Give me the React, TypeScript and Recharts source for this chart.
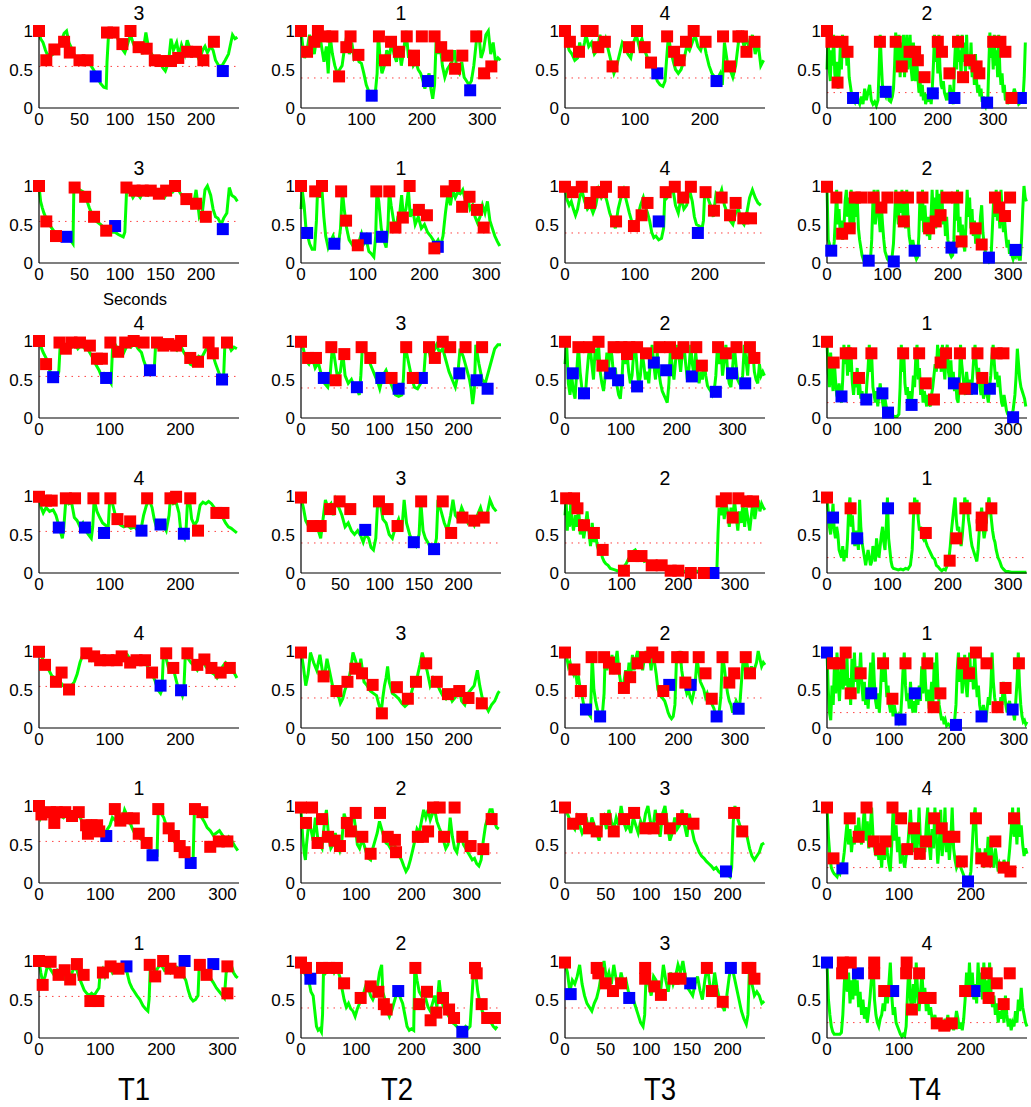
import React from 'react';
import { ComposedChart, Line, Scatter, XAxis, YAxis, ReferenceLine } from 'recharts';

type P = number[][];

// ---------- Row 1 ----------
const g11: P = [[0,1],[2,0.9],[5,0.85],[8,0.75],[10,0.7],[15,0.68],[20,0.72],[25,0.8],[28,0.88],[31,0.97],[34,1],[37,0.85],[40,0.78],[44,0.68],[48,0.6],[52,0.63],[55,0.57],[60,0.62],[63,0.57],[66,0.52],[70,0.45],[73,0.38],[76,0.32],[80,0.27],[83,0.26],[84,0.6],[86,0.98],[90,0.95],[95,0.97],[98,0.88],[102,0.78],[106,0.72],[110,0.85],[113,0.95],[116,0.85],[120,0.75],[125,0.82],[128,0.7],[132,0.98],[135,0.8],[138,0.72],[142,0.65],[145,0.62],[150,0.58],[153,0.52],[156,0.48],[160,0.6],[163,0.9],[166,0.75],[170,0.85],[173,0.68],[176,0.82],[180,0.7],[183,0.88],[187,0.75],[190,0.68],[195,0.7],[198,0.62],[202,0.75],[205,0.8],[208,0.72],[212,0.8],[215,0.75],[218,0.62],[222,0.55],[226,0.55],[230,0.62],[234,0.7],[237,0.85],[239,0.95],[242,0.9],[245,0.92]];
const r11: P = [[0,1],[9,0.62],[19,0.76],[31,0.86],[38,0.72],[50,0.62],[60,0.62],[84,0.98],[92,0.98],[103,0.83],[113,1],[123,0.79],[133,0.77],[143,0.62],[150,0.61],[163,0.61],[172,0.65],[183,0.73],[194,0.73],[203,0.62],[216,0.86]];
const b11: P = [[70,0.41],[227,0.48]];

const g12: P = [[0,1],[3,0.8],[6,0.65],[10,0.75],[14,0.95],[18,0.85],[22,0.7],[26,0.92],[30,1],[34,0.8],[38,0.6],[42,0.8],[45,0.45],[48,0.95],[52,0.7],[56,0.55],[60,0.45],[64,0.5],[68,0.55],[72,0.78],[76,0.95],[80,0.7],[84,0.85],[88,0.65],[92,0.7],[96,0.6],[100,0.58],[104,0.45],[108,0.3],[112,0.22],[116,0.15],[120,0.12],[123,0.2],[126,0.45],[128,1],[131,0.6],[134,0.45],[138,0.55],[142,0.75],[146,0.65],[150,0.85],[154,0.7],[158,0.6],[162,0.8],[166,0.55],[170,0.75],[174,1],[178,0.65],[182,0.75],[186,0.55],[190,0.6],[194,0.5],[198,0.45],[202,0.35],[205,0.25],[208,0.35],[212,0.45],[215,0.25],[218,0.12],[221,0.3],[224,0.95],[227,0.7],[230,0.85],[234,0.55],[238,0.4],[242,0.5],[246,0.55],[250,0.6],[254,0.75],[258,0.5],[262,0.45],[266,0.6],[270,0.4],[274,0.35],[278,0.3],[282,0.35],[286,0.55],[290,0.85],[294,1],[298,0.65],[302,0.75],[306,0.95],[310,1],[314,0.7],[318,0.85],[322,0.6],[326,0.65],[330,0.62]];
const r12: P = [[0,1],[10,0.73],[22,0.86],[28,1],[40,0.93],[52,0.93],[63,0.41],[75,0.79],[82,0.93],[95,0.69],[129,0.93],[139,0.62],[149,0.86],[162,0.73],[175,0.93],[187,0.68],[187,0.62],[200,0.93],[221,0.93],[232,0.79],[242,0.68],[255,0.51],[267,0.68],[290,0.93],[303,0.45],[315,0.54]];
const b12: P = [[117,0.16],[210,0.35],[280,0.23]];

const g13: P = [[0,0.95],[3,0.85],[6,0.75],[10,0.7],[14,0.62],[18,0.65],[21,0.85],[24,0.7],[28,0.85],[30,0.95],[34,0.8],[38,0.85],[42,0.7],[46,0.75],[50,0.95],[54,0.8],[58,0.9],[62,0.75],[66,0.6],[70,0.45],[74,0.55],[78,0.7],[82,0.85],[86,0.8],[90,0.7],[94,0.65],[98,0.85],[102,0.95],[106,0.8],[110,0.9],[114,0.75],[118,0.65],[122,0.6],[126,0.5],[129,0.45],[132,0.35],[136,0.3],[140,0.28],[143,0.35],[145,0.6],[148,0.95],[151,0.75],[155,0.6],[158,0.5],[162,0.45],[166,0.5],[170,0.62],[174,0.8],[178,0.75],[182,0.85],[186,0.95],[190,0.8],[194,0.75],[198,0.88],[202,0.7],[206,0.55],[210,0.45],[214,0.4],[218,0.38],[222,0.45],[225,0.3],[228,0.85],[232,0.6],[236,0.5],[240,0.4],[244,0.55],[248,0.85],[252,0.95],[256,0.8],[260,0.9],[264,0.75],[268,0.95],[272,0.7],[276,0.85],[280,0.55],[284,0.62]];
const r13: P = [[0,1],[7,0.86],[20,0.73],[31,1],[39.5,1],[47.6,0.79],[57,0.86],[68,0.54],[91.4,0.79],[103,1],[114,0.79],[123,0.59],[146,0.93],[156,0.73],[164,0.62],[173,0.86],[184,1],[201,0.86],[226,0.93],[236,0.54],[248,0.93],[253,0.93],[259.5,0.73],[271,0.86]];
const b13: P = [[132,0.45],[216.7,0.35]];

const g14: P = [[0,0.5],[2,0.98],[4,0.5],[6,0.35],[8,0.75],[10,0.55],[12,0.95],[14,0.45],[16,0.3],[18,0.6],[20,0.25],[22,0.45],[24,0.8],[26,0.5],[28,0.95],[30,0.65],[32,0.7],[34,0.85],[36,0.55],[38,0.75],[40,0.4],[42,0.3],[44,0.2],[47,0.12],[50,0.08],[53,0.2],[56,0.1],[59,0.05],[62,0.15],[65,0.05],[68,0.25],[71,0.1],[74,0.2],[77,0.3],[80,0.1],[83,0.05],[86,0.08],[89,0.03],[92,0.1],[94,0.5],[96,0.95],[98,0.6],[100,0.3],[103,0.2],[106,0.15],[109,0.25],[112,0.1],[115,0.08],[118,0.15],[120,0.25],[122,0.55],[124,0.98],[126,0.75],[128,0.5],[130,0.95],[132,0.4],[134,0.85],[136,0.55],[138,0.95],[140,0.4],[142,0.75],[144,0.95],[146,0.5],[148,0.7],[150,0.95],[152,0.5],[154,0.35],[156,0.85],[158,0.45],[160,0.35],[162,0.6],[164,0.4],[166,0.2],[168,0.35],[170,0.15],[172,0.3],[174,0.1],[176,0.2],[178,0.05],[180,0.12],[182,0.08],[184,0.2],[186,0.15],[188,0.05],[190,0.25],[192,0.55],[194,0.95],[196,0.6],[198,0.8],[200,0.45],[202,0.95],[204,0.5],[206,0.3],[208,0.25],[210,0.35],[212,0.2],[214,0.15],[216,0.1],[218,0.2],[220,0.1],[222,0.3],[224,0.2],[226,0.1],[228,0.05],[230,0.55],[232,0.85],[234,0.5],[236,0.95],[238,0.6],[240,0.75],[242,0.4],[244,0.95],[246,0.6],[248,0.85],[250,0.45],[252,0.95],[254,0.55],[256,0.7],[258,0.5],[260,0.85],[262,0.4],[264,0.6],[266,0.3],[268,0.7],[270,0.35],[272,0.2],[274,0.3],[276,0.15],[278,0.25],[280,0.08],[282,0.15],[284,0.05],[286,0.02],[288,0.1],[290,0.05],[292,0.55],[294,0.98],[296,0.65],[298,0.85],[300,0.5],[302,0.95],[304,0.55],[306,0.75],[308,0.4],[310,0.95],[312,0.5],[314,0.3],[316,0.45],[318,0.2],[320,0.3],[322,0.1],[324,0.15],[326,0.05],[330,0.2],[334,0.1],[338,0.25],[342,0.15],[346,0.05],[350,0.08],[354,0.15],[356,0.4],[358,0.85]];
const r14: P = [[0,1],[8,0.86],[19,0.33],[28,0.86],[37,0.73],[95.5,0.86],[124,0.86],[135,0.54],[149,0.73],[159,0.73],[164,0.62],[176,0.4],[200,0.86],[207.5,0.73],[221,0.45],[236.5,0.86],[245.6,0.4],[257.7,0.62],[270,0.54],[275,0.45],[300,0.86],[313,0.86],[322,0.73],[333,0.13]];
const b14: P = [[47,0.13],[106,0.21],[191,0.19],[230,0.13],[289,0.07],[350,0.13]];

// ---------- Row 2 ----------
const g21: P = [[0,1],[2,0.8],[4,0.72],[6,0.65],[10,0.55],[14,0.48],[18,0.42],[22,0.38],[28,0.38],[34,0.32],[40,0.28],[42,0.25],[43,0.95],[46,1],[50,0.95],[55,0.92],[58,0.85],[62,0.72],[66,0.62],[70,0.55],[76,0.5],[80,0.46],[84,0.42],[88,0.4],[94,0.4],[98,0.37],[104,0.34],[106,0.4],[108,0.9],[112,0.95],[116,0.85],[120,0.92],[125,0.85],[130,0.95],[135,0.88],[140,0.92],[145,0.86],[150,0.9],[155,0.85],[160,0.95],[165,0.92],[170,0.98],[175,0.9],[178,0.85],[182,0.8],[186,0.85],[190,0.7],[194,0.95],[198,0.6],[202,0.68],[205,0.95],[208,1],[212,0.88],[215,0.7],[218,0.6],[221,0.58],[225,0.5],[228,0.58],[232,0.65],[235,0.98],[238,0.88],[242,0.85],[245,0.8]];
const r21: P = [[0,1],[9,0.54],[21,0.35],[44,0.98],[57,0.86],[68,0.6],[83,0.42],[108,0.98],[118,0.94],[128,0.94],[138,0.94],[148,0.9],[157,0.94],[168,1],[182,0.83],[194,0.77],[206,0.6]];
const b21: P = [[34,0.34],[94,0.48],[227,0.44]];

const g22: P = [[0,0.7],[2,0.95],[5,0.75],[8,0.45],[11,0.35],[14,0.25],[18,0.18],[22,0.18],[25,0.55],[27,0.98],[30,0.85],[34,0.95],[37,0.6],[40,0.35],[44,0.2],[48,0.28],[52,0.35],[56,0.22],[60,0.2],[64,0.45],[67,0.95],[70,0.7],[74,0.45],[78,0.3],[82,0.25],[86,0.2],[90,0.22],[94,0.28],[98,0.38],[102,0.25],[106,0.3],[110,0.15],[114,0.12],[118,0.08],[121,0.35],[123,0.95],[126,0.8],[130,0.45],[134,0.3],[138,0.2],[141,0.5],[143,0.95],[146,0.75],[150,0.55],[154,0.45],[157,0.6],[160,0.65],[163,0.88],[166,0.6],[170,0.7],[174,0.95],[177,0.6],[181,0.7],[185,0.5],[190,0.6],[195,0.45],[200,0.5],[205,0.4],[210,0.35],[214,0.3],[218,0.25],[222,0.3],[226,0.22],[230,0.35],[234,0.65],[238,0.9],[242,0.75],[246,0.95],[250,0.85],[254,0.92],[258,0.9],[262,0.95],[266,0.82],[270,0.85],[274,0.7],[278,0.75],[282,0.6],[286,0.52],[290,0.6],[294,0.75],[298,0.65],[302,0.8],[306,0.55],[310,0.45],[314,0.35],[318,0.28],[322,0.22]];
const r22: P = [[0,1],[23,0.93],[34,1],[65,0.93],[73,0.55],[92,0.23],[122,0.93],[143,0.93],[153,0.46],[165,0.59],[176,1],[191,0.69],[204,0.62],[216,0.19],[235,0.93],[249,1],[261,0.73],[273,0.86],[285,0.69],[296,0.46]];
const b22: P = [[10,0.39],[54,0.25],[105,0.32],[131,0.34],[221.6,0.21]];

const g23: P = [[0,0.98],[3,0.82],[6,0.75],[9,0.8],[12,0.7],[15,0.62],[18,0.7],[21,0.85],[24,0.95],[28,0.8],[32,0.7],[36,0.75],[40,0.65],[44,0.75],[48,0.95],[52,0.85],[56,0.92],[60,0.8],[64,0.65],[68,0.55],[72,0.45],[76,0.7],[80,0.85],[84,0.95],[88,0.8],[92,0.65],[96,0.52],[100,0.45],[104,0.6],[108,0.75],[112,0.85],[116,0.7],[118,0.65],[121,0.55],[124,0.4],[127,0.33],[130,0.35],[134,0.3],[138,0.32],[141,0.45],[143,0.95],[146,0.85],[150,0.9],[154,0.98],[158,0.75],[162,0.65],[166,0.85],[170,0.7],[174,0.75],[178,0.95],[182,0.8],[185,0.6],[188,0.5],[192,0.48],[196,0.45],[198,0.55],[200,0.95],[204,0.85],[208,0.75],[212,0.6],[216,0.9],[220,0.85],[224,0.95],[228,0.75],[232,0.65],[236,0.55],[240,0.5],[244,0.65],[248,0.7],[252,0.55],[256,0.5],[260,0.65],[264,0.85],[268,0.95],[272,0.85],[276,0.78],[280,0.75]];
const r23: P = [[0,0.99],[11,0.92],[24,0.99],[36,0.78],[45,0.92],[53,0.92],[58.6,0.99],[73,0.54],[84,0.92],[98.6,0.48],[109.5,0.62],[118,0.78],[144,0.92],[157,0.99],[169,0.85],[180,0.99],[201,0.92],[213,0.68],[224,0.85],[236,0.62],[244,0.78],[255,0.58],[266,0.58]];
const b23: P = [[134,0.54],[190,0.39]];

const g24: P = [[0,0.98],[2,0.3],[4,0.25],[6,0.15],[8,0.2],[10,0.12],[12,0.28],[14,0.6],[16,0.95],[18,0.5],[20,0.7],[22,0.35],[24,0.55],[26,0.3],[28,0.45],[30,0.8],[32,0.95],[34,0.6],[36,0.85],[38,0.5],[40,0.95],[42,0.7],[44,0.4],[46,0.9],[48,0.6],[50,0.85],[52,0.45],[54,0.3],[56,0.2],[58,0.1],[60,0.05],[63,0.08],[66,0.05],[69,0.02],[72,0.05],[74,0.3],[76,0.8],[78,0.95],[80,0.5],[82,0.7],[84,0.95],[86,0.6],[88,0.4],[90,0.75],[92,0.5],[94,0.3],[96,0.15],[98,0.1],[100,0.05],[103,0.02],[106,0.05],[108,0.1],[110,0.25],[112,0.6],[114,0.95],[116,0.7],[118,0.5],[120,0.9],[122,0.65],[124,0.95],[126,0.55],[128,0.8],[130,0.45],[132,0.95],[134,0.6],[136,0.35],[138,0.25],[140,0.15],[142,0.3],[144,0.2],[146,0.1],[148,0.05],[150,0.08],[152,0.35],[154,0.9],[156,0.55],[158,0.95],[160,0.4],[162,0.75],[164,0.5],[166,0.35],[168,0.6],[170,0.3],[172,0.55],[174,0.95],[176,0.6],[178,0.85],[180,0.45],[182,0.95],[184,0.55],[186,0.9],[188,0.6],[190,0.95],[192,0.5],[194,0.7],[196,0.35],[198,0.6],[200,0.3],[202,0.2],[204,0.12],[206,0.08],[208,0.1],[210,0.3],[212,0.85],[214,0.55],[216,0.95],[218,0.4],[220,0.6],[222,0.3],[224,0.5],[226,0.25],[228,0.15],[230,0.5],[232,0.95],[234,0.6],[236,0.85],[238,0.45],[240,0.7],[242,0.35],[244,0.55],[246,0.25],[248,0.4],[250,0.2],[252,0.35],[254,0.6],[256,0.75],[258,0.4],[260,0.25],[262,0.15],[264,0.1],[266,0.05],[268,0.02],[270,0.05],[272,0.15],[274,0.5],[276,0.85],[278,0.6],[280,0.95],[282,0.55],[284,0.8],[286,0.45],[288,0.95],[290,0.65],[292,0.4],[294,0.55],[296,0.35],[298,0.2],[300,0.3],[302,0.12],[304,0.2],[306,0.1],[308,0.05],[310,0.1],[312,0.08],[314,0.15],[316,0.1],[318,0.05],[320,0.05],[322,0.3],[324,0.7],[326,1],[328,0.85],[330,0.8]];
const r24: P = [[0,0.99],[15.5,0.85],[25,0.38],[37.6,0.45],[46,0.85],[57,0.85],[77,0.85],[90,0.72],[100,0.85],[120.4,0.85],[134,0.85],[127,0.54],[158,0.85],[169,0.45],[180,0.54],[188,0.62],[198,0.85],[215.5,0.85],[222.7,0.28],[246,0.45],[256,0.24],[278,0.85],[285,0.72],[294.5,0.61],[303,0.85]];
const b24: P = [[7,0.16],[69,0.03],[110.5,0.02],[145,0.16],[206,0.2],[268,0.07],[312,0.17]];

// ---------- Row 3 ----------
const g31: P = [[0,1],[3,0.92],[6,0.85],[10,0.78],[14,0.65],[18,0.55],[22,0.5],[25,0.52],[28,0.6],[30,0.95],[34,0.88],[38,0.9],[42,0.95],[46,0.92],[50,0.98],[55,0.9],[60,0.95],[65,0.9],[70,0.88],[75,0.8],[80,0.7],[85,0.62],[88,0.55],[92,0.58],[96,0.55],[100,0.48],[102,0.45],[104,0.9],[108,0.95],[112,0.88],[116,0.92],[120,0.85],[125,0.95],[130,0.92],[135,0.98],[140,0.9],[145,0.85],[148,0.75],[152,0.65],[156,0.6],[160,0.58],[163,0.62],[165,0.95],[170,0.9],[175,0.95],[180,0.92],[185,0.98],[190,0.92],[195,0.88],[200,0.95],[205,0.85],[210,0.78],[214,0.7],[218,0.68],[222,0.72],[226,0.8],[230,0.78],[234,0.85],[238,0.92],[242,0.88],[246,0.82],[250,0.7],[254,0.6],[258,0.5],[261,0.48],[263,0.95],[267,0.98],[272,0.88],[276,0.92],[280,0.9]];
const r31: P = [[0,1],[10,0.7],[29,0.98],[38,0.9],[46,0.98],[58,0.98],[72,0.94],[82,0.77],[89,0.77],[101,0.98],[112,0.86],[122,0.98],[134,1],[148,0.98],[167,0.98],[176,0.94],[183,0.96],[194,0.94],[201,1],[214,0.78],[225,0.73],[240,0.98],[246,0.84],[266,0.98]];
const b31: P = [[20,0.53],[95,0.52],[157,0.62],[259,0.5]];

const g32: P = [[0,1],[3,0.9],[6,0.75],[10,0.7],[14,0.8],[18,0.65],[22,0.72],[26,0.55],[30,0.45],[34,0.4],[37,0.55],[40,0.95],[43,0.75],[46,0.55],[50,0.6],[53,0.85],[56,0.55],[60,0.45],[64,0.5],[68,0.4],[72,0.35],[74,0.3],[76,0.55],[78,0.95],[82,0.85],[86,0.75],[90,0.65],[94,0.55],[98,0.45],[100,0.38],[104,0.55],[108,0.62],[112,0.5],[116,0.4],[120,0.3],[124,0.28],[128,0.3],[130,0.5],[132,0.95],[136,0.75],[140,0.55],[144,0.4],[148,0.38],[152,0.45],[156,0.55],[158,0.85],[161,0.95],[164,0.8],[168,0.85],[172,0.95],[176,0.85],[180,0.9],[184,0.75],[188,0.6],[192,0.5],[196,0.4],[199,0.55],[202,0.9],[206,0.8],[210,0.65],[214,0.5],[216,0.38],[218,0.18],[220,0.35],[222,0.95],[226,0.7],[230,0.5],[234,0.45],[238,0.6],[242,0.75],[246,0.9],[250,0.95],[254,0.95]];
const r32: P = [[0,0.99],[9,0.78],[19,0.78],[38.5,0.92],[44,0.49],[55,0.83],[77,0.92],[88,0.78],[115,0.52],[133.6,0.92],[142,0.52],[162.6,0.92],[170,0.78],[180,0.99],[189.5,0.92],[209,0.92],[230,0.92]];
const b32: P = [[29,0.52],[71,0.4],[102,0.52],[124,0.38],[153.5,0.52],[201,0.58],[223,0.49],[237,0.38]];

const g33: P = [[0,0.7],[3,0.95],[6,0.45],[9,0.3],[12,0.55],[15,0.35],[18,0.25],[21,0.6],[24,0.95],[27,0.6],[30,0.4],[33,0.3],[36,0.25],[39,0.55],[42,0.8],[45,0.95],[48,0.7],[51,0.5],[54,0.9],[57,0.75],[60,0.95],[63,0.6],[66,0.45],[69,0.35],[72,0.55],[75,0.85],[78,0.65],[81,0.95],[84,0.8],[87,0.55],[90,0.65],[93,0.42],[96,0.3],[99,0.25],[102,0.5],[105,0.95],[108,0.7],[111,0.85],[114,0.6],[117,0.45],[120,0.55],[123,0.85],[126,0.95],[129,0.65],[132,0.42],[135,0.55],[138,0.85],[141,0.7],[144,0.5],[147,0.6],[150,0.45],[153,0.75],[156,0.95],[159,0.7],[162,0.5],[165,0.85],[168,0.6],[171,0.45],[174,0.35],[177,0.3],[180,0.25],[183,0.2],[186,0.45],[189,0.95],[192,0.65],[195,0.5],[198,0.75],[201,0.95],[204,0.8],[207,0.6],[210,0.85],[213,0.95],[216,0.7],[219,0.5],[222,0.65],[225,0.95],[228,0.7],[231,0.55],[234,0.85],[237,0.6],[240,0.45],[243,0.6],[246,0.5],[249,0.75],[252,0.55],[255,0.42],[258,0.38],[261,0.35],[264,0.3],[267,0.35],[270,0.55],[273,0.95],[276,0.7],[279,0.9],[282,0.55],[285,0.75],[288,0.95],[291,0.6],[294,0.45],[297,0.4],[300,0.65],[303,0.95],[306,0.7],[309,0.5],[312,0.45],[315,0.42],[318,0.55],[321,0.95],[324,0.75],[327,0.55],[330,0.95],[333,0.8],[336,0.9],[339,0.6],[342,0.5],[345,0.45],[348,0.7],[351,0.55],[354,0.6],[357,0.55]];
const r33: P = [[0,0.99],[24,0.92],[43,0.92],[60,0.99],[67,0.68],[87,0.92],[101,0.92],[111,0.83],[115,0.92],[129,0.92],[145,0.84],[169,0.92],[188,0.92],[201,0.84],[212,0.92],[235,0.92],[245,0.68],[274,0.92],[288,0.84],[307,0.92],[331,0.92],[339,0.78]];
const b33: P = [[14,0.58],[34,0.32],[81,0.58],[95,0.49],[129,0.41],[159,0.72],[181,0.62],[227,0.54],[270,0.34],[299,0.58],[322.6,0.45]];

const g34: P = [[0,0.98],[2,0.6],[4,0.4],[6,0.85],[8,0.55],[10,0.35],[12,0.75],[14,0.5],[16,0.3],[18,0.25],[20,0.45],[22,0.3],[24,0.2],[26,0.5],[28,0.95],[30,0.7],[32,0.9],[34,0.55],[36,0.95],[38,0.6],[40,0.8],[42,0.45],[44,0.3],[46,0.5],[48,0.4],[50,0.65],[52,0.3],[54,0.45],[56,0.25],[58,0.35],[60,0.2],[62,0.3],[64,0.2],[66,0.45],[68,0.65],[70,0.95],[72,0.6],[74,0.8],[76,0.4],[78,0.3],[80,0.2],[82,0.35],[84,0.15],[86,0.3],[88,0.45],[90,0.3],[92,0.2],[94,0.1],[96,0.25],[98,0.15],[100,0.08],[104,0.05],[108,0.03],[112,0.02],[116,0.02],[119,0.05],[121,0.4],[123,0.95],[125,0.6],[127,0.85],[129,0.45],[131,0.3],[133,0.4],[135,0.2],[137,0.35],[139,0.15],[141,0.3],[143,0.55],[145,0.4],[147,0.8],[149,0.95],[151,0.5],[153,0.65],[155,0.3],[157,0.45],[159,0.2],[161,0.35],[163,0.25],[165,0.15],[167,0.3],[169,0.2],[171,0.15],[173,0.3],[175,0.4],[177,0.55],[179,0.7],[181,0.6],[183,0.95],[185,0.75],[187,0.9],[189,0.6],[191,0.95],[193,0.7],[195,0.5],[197,0.85],[199,0.95],[201,0.6],[203,0.5],[205,0.75],[207,0.45],[209,0.6],[211,0.35],[213,0.5],[215,0.25],[217,0.2],[219,0.45],[221,0.95],[223,0.7],[225,0.55],[227,0.4],[229,0.3],[231,0.6],[233,0.45],[235,0.35],[237,0.5],[239,0.3],[241,0.55],[243,0.8],[245,0.95],[247,0.7],[249,0.5],[251,0.65],[253,0.4],[255,0.3],[257,0.45],[259,0.25],[261,0.35],[263,0.55],[265,0.3],[267,0.2],[269,0.4],[271,0.55],[273,0.8],[275,0.95],[277,0.7],[279,0.5],[281,0.6],[283,0.4],[285,0.55],[287,0.35],[289,0.2],[291,0.15],[293,0.3],[295,0.2],[297,0.1],[299,0.05],[302,0.02],[305,0.05],[308,0.1],[311,0.3],[313,0.55],[315,0.9],[317,0.7],[319,0.5],[321,0.4],[323,0.35],[325,0.3],[327,0.25],[329,0.15]];
const r34: P = [[0,0.99],[11,0.72],[31,0.84],[40,0.84],[53,0.52],[73.5,0.84],[126,0.84],[152.5,0.84],[163.5,0.45],[177,0.24],[188,0.72],[197,0.84],[220,0.84],[228,0.38],[249,0.84],[257,0.52],[280.7,0.84],[292,0.84]];
const b34: P = [[24,0.28],[65,0.24],[91.7,0.32],[101,0.07],[140,0.17],[210,0.45],[240,0.38],[269.6,0.38],[308,0.01]];

// ---------- Row 4 ----------
const g41: P = [[0,1],[3,0.85],[6,0.78],[10,0.85],[15,0.8],[20,0.82],[24,0.75],[27,0.65],[30,0.55],[33,0.45],[35,0.58],[38,0.95],[42,0.9],[46,0.92],[50,0.72],[54,0.68],[58,0.6],[62,0.65],[66,0.55],[70,0.5],[74,0.45],[76,0.6],[78,0.95],[82,0.8],[86,0.72],[90,0.65],[94,0.62],[98,0.6],[100,0.95],[104,0.9],[108,0.75],[112,0.65],[116,0.62],[120,0.6],[125,0.62],[130,0.58],[135,0.6],[140,0.55],[144,0.55],[148,0.75],[152,0.88],[156,0.95],[160,0.85],[163,0.7],[166,0.6],[170,0.62],[176,0.62],[180,0.55],[184,0.75],[186,0.98],[190,0.9],[194,0.92],[198,0.78],[200,0.6],[203,0.5],[206,0.45],[208,0.55],[210,0.9],[213,0.95],[216,0.7],[220,0.62],[224,0.68],[228,0.88],[232,0.92],[236,0.9],[240,0.93],[244,0.9],[248,0.85],[252,0.8],[256,0.75],[260,0.72],[264,0.65],[268,0.6],[272,0.58],[276,0.55],[280,0.52]];
const r41: P = [[0,0.99],[10,0.94],[18,0.94],[38,0.97],[51,0.97],[77,0.97],[101,0.97],[111,0.7],[129,0.67],[153,0.97],[186,0.97],[194,0.99],[214,0.97],[225,0.55],[251,0.78],[261,0.78]];
const b41: P = [[28,0.59],[65,0.59],[92,0.52],[145,0.55],[172,0.63],[205,0.51]];

const g42: P = [[0,0.98],[3,0.85],[6,0.68],[10,0.6],[14,0.65],[18,0.6],[22,0.55],[25,0.45],[28,0.7],[31,0.95],[34,0.85],[38,0.9],[41,0.75],[44,0.95],[48,0.85],[52,0.75],[56,0.6],[60,0.65],[64,0.55],[68,0.5],[72,0.55],[76,0.48],[79,0.4],[82,0.5],[86,0.45],[89,0.33],[92,0.3],[95,0.45],[97,0.85],[100,0.95],[104,0.7],[108,0.65],[112,0.5],[116,0.45],[120,0.6],[124,0.7],[128,0.55],[131,0.95],[134,0.65],[138,0.5],[142,0.4],[146,0.35],[150,0.5],[152,0.95],[155,0.55],[158,0.45],[162,0.38],[166,0.3],[170,0.35],[172,0.45],[174,0.95],[178,0.8],[182,0.65],[186,0.55],[190,0.75],[193,0.95],[196,0.75],[200,0.7],[204,0.85],[208,0.75],[212,0.65],[216,0.7],[220,0.62],[224,0.75],[228,0.85],[232,0.7],[236,0.75],[240,0.95],[244,0.85],[248,0.8]];
const r42: P = [[0,0.98],[14.8,0.61],[25,0.61],[37,0.83],[49,0.93],[62.6,0.83],[99,0.93],[110,0.83],[122.6,0.61],[152.6,0.93],[180,0.93],[190.7,0.52],[205,0.72],[220,0.68],[232,0.72]];
const b42: P = [[81.6,0.56],[143.3,0.4],[169,0.31]];

const g43: P = [[0,0.75],[2,0.95],[4,0.55],[6,0.8],[8,0.6],[10,0.9],[12,0.7],[15,0.55],[18,0.75],[21,0.6],[24,0.85],[27,0.5],[30,0.7],[33,0.45],[36,0.6],[39,0.8],[42,0.55],[45,0.35],[48,0.65],[51,0.4],[54,0.5],[57,0.35],[60,0.28],[63,0.3],[66,0.2],[69,0.15],[72,0.12],[76,0.1],[80,0.06],[84,0.05],[88,0.04],[92,0.03],[96,0.03],[100,0.05],[104,0.08],[108,0.12],[112,0.18],[116,0.22],[120,0.28],[124,0.3],[128,0.25],[132,0.22],[136,0.2],[140,0.15],[144,0.16],[148,0.12],[152,0.14],[156,0.1],[160,0.12],[165,0.08],[170,0.06],[175,0.08],[180,0.05],[185,0.04],[190,0.03],[195,0.04],[200,0.02],[205,0.03],[210,0.02],[215,0.03],[220,0.02],[225,0.02],[230,0.03],[235,0.02],[240,0.03],[245,0.02],[250,0.02],[255,0.01],[260,0.01],[265,0.01],[268,0.02],[270,0.5],[272,0.85],[275,0.75],[278,0.95],[281,0.7],[284,0.9],[287,0.8],[290,0.6],[293,0.85],[296,0.65],[299,0.95],[302,0.75],[305,0.55],[308,0.8],[311,0.65],[314,0.9],[317,0.6],[320,0.85],[323,0.7],[326,0.55],[329,0.75],[332,0.95],[335,0.7],[338,0.85],[341,0.95],[344,0.8],[347,0.9],[350,0.85],[353,0.82]];
const r43: P = [[2,0.97],[16,0.97],[22,0.84],[33.5,0.62],[51,0.52],[66.5,0.3],[104,0.03],[120.6,0.22],[135,0.22],[153,0.1],[170.6,0.1],[186.5,0.03],[200,0.03],[222,0],[245,0],[276.5,0.93],[284,0.97],[296,0.72],[306,0.97],[320.6,0.93],[332,0.93]];
const b43: P = [[262,0]];

const g44: P = [[0,0.98],[2,0.8],[4,0.6],[6,0.5],[8,0.7],[10,0.9],[12,0.55],[14,0.45],[16,0.6],[18,0.5],[20,0.3],[22,0.25],[24,0.2],[26,0.35],[28,0.15],[30,0.3],[32,0.2],[34,0.45],[36,0.85],[38,0.98],[40,0.6],[42,0.75],[44,0.5],[46,0.35],[48,0.55],[50,0.45],[52,0.3],[54,0.95],[56,0.6],[58,0.4],[60,0.3],[62,0.2],[64,0.1],[66,0.2],[68,0.3],[70,0.2],[72,0.1],[74,0.15],[76,0.35],[78,0.25],[80,0.15],[82,0.45],[84,0.3],[86,0.2],[88,0.35],[90,0.5],[92,0.6],[94,0.4],[96,0.3],[98,0.6],[100,0.98],[102,0.45],[104,0.3],[106,0.15],[108,0.08],[110,0.06],[114,0.05],[118,0.04],[122,0.05],[126,0.04],[130,0.06],[134,0.05],[138,0.1],[141,0.3],[143,0.7],[145,0.98],[147,0.8],[149,0.95],[151,0.7],[153,0.55],[155,0.6],[157,0.48],[159,0.45],[161,0.55],[163,0.42],[166,0.35],[169,0.3],[172,0.25],[175,0.2],[178,0.18],[181,0.1],[184,0.08],[187,0.05],[190,0.03],[193,0.05],[196,0.04],[199,0.1],[202,0.2],[204,0.35],[206,0.55],[208,0.7],[210,0.85],[212,0.98],[214,0.7],[216,0.55],[218,0.6],[220,0.45],[222,0.35],[224,0.5],[226,0.7],[228,0.98],[230,0.85],[232,0.95],[234,0.7],[236,0.6],[238,0.45],[240,0.35],[242,0.3],[244,0.25],[246,0.2],[248,0.15],[250,0.3],[252,0.55],[254,0.7],[256,0.85],[258,0.6],[260,0.45],[262,0.55],[264,0.7],[266,0.85],[268,0.98],[270,0.85],[272,0.7],[274,0.55],[276,0.45],[278,0.4],[280,0.3],[283,0.2],[286,0.15],[289,0.08],[292,0.05],[296,0.02],[300,0.02],[305,0.01],[310,0.01],[315,0.01],[320,0.01],[325,0.01],[330,0.01]];
const r44: P = [[0,0.98],[39,0.84],[145,0.84],[163.5,0.52],[203,0.16],[214,0.45],[229,0.84],[256,0.72],[256,0.62],[272,0.84]];
const b44: P = [[10,0.72],[50,0.45],[101,0.84]];

// ---------- Row 5 ----------
const g51: P = [[0,1],[3,0.95],[6,0.88],[10,0.85],[14,0.75],[18,0.68],[22,0.65],[26,0.62],[30,0.6],[34,0.55],[38,0.55],[42,0.52],[46,0.55],[50,0.6],[54,0.7],[58,0.85],[62,0.95],[66,0.92],[70,0.95],[75,0.88],[80,0.92],[85,0.88],[90,0.92],[95,0.9],[100,0.88],[105,0.92],[110,0.88],[115,0.92],[120,0.9],[125,0.95],[130,0.88],[135,0.92],[140,0.9],[145,0.88],[150,0.85],[155,0.78],[160,0.7],[164,0.62],[168,0.5],[172,0.45],[174,0.5],[176,0.95],[180,0.9],[184,0.75],[188,0.8],[192,0.7],[196,0.55],[200,0.5],[203,0.42],[205,0.5],[207,0.95],[211,0.9],[215,0.85],[220,0.8],[224,0.75],[228,0.82],[232,0.88],[236,0.8],[240,0.75],[244,0.72],[248,0.7],[252,0.65],[256,0.7],[260,0.8],[264,0.85],[268,0.82],[272,0.78],[276,0.72],[280,0.65]];
const r51: P = [[0,0.99],[8.5,0.82],[24,0.6],[32,0.72],[42.5,0.5],[67,0.97],[78,0.93],[86.5,0.88],[98,0.88],[110,0.88],[117,0.93],[129,0.85],[138,0.88],[150,0.88],[160,0.72],[180,0.97],[190,0.78],[210,0.97],[224,0.82],[234,0.89],[244,0.78],[257,0.72],[270,0.78]];
const b51: P = [[172,0.55],[201,0.49]];

const g52: P = [[0,1],[3,0.8],[6,0.55],[9,0.7],[12,0.98],[16,0.85],[20,0.75],[24,0.95],[27,0.75],[30,0.68],[33,0.9],[36,0.75],[40,0.55],[44,0.45],[48,0.4],[50,0.32],[53,0.38],[56,0.5],[60,0.6],[63,0.75],[66,0.98],[70,0.85],[73,0.7],[76,0.9],[80,0.6],[84,0.55],[88,0.48],[92,0.45],[96,0.42],[99,0.3],[102,0.22],[104,0.4],[106,0.55],[108,0.65],[110,0.8],[112,0.6],[116,0.45],[120,0.42],[124,0.38],[128,0.32],[132,0.28],[136,0.32],[140,0.45],[144,0.6],[148,0.68],[151,0.82],[154,0.98],[157,0.85],[160,0.75],[164,0.55],[168,0.65],[172,0.6],[176,0.5],[180,0.42],[184,0.38],[188,0.45],[192,0.35],[196,0.4],[200,0.55],[204,0.35],[208,0.3],[212,0.45],[216,0.5],[220,0.55],[224,0.75],[227,0.55],[230,0.4],[234,0.3],[238,0.22],[242,0.3],[246,0.35],[250,0.45],[252,0.48]];
const r52: P = [[0,0.98],[28.7,0.67],[45,0.48],[59,0.6],[69,0.77],[77.5,0.71],[91,0.56],[102.7,0.19],[121.8,0.53],[135.7,0.38],[146,0.6],[159,0.84],[172.5,0.6],[186.6,0.44],[201,0.48],[212.7,0.39],[229.6,0.32]];
const b52: P = [];

const g53: P = [[0,1],[3,0.92],[6,0.8],[9,0.85],[12,0.75],[15,0.7],[18,0.8],[21,0.6],[24,0.65],[27,0.5],[30,0.42],[33,0.3],[36,0.25],[39,0.2],[42,0.18],[45,0.15],[48,0.95],[51,0.5],[54,0.35],[57,0.25],[60,0.15],[63,0.12],[66,0.18],[69,0.45],[71,0.95],[74,0.75],[77,0.9],[80,0.8],[83,0.95],[86,0.7],[89,0.85],[92,1],[95,0.75],[98,0.6],[101,0.45],[104,0.6],[107,0.75],[110,0.6],[113,0.85],[116,0.7],[119,0.95],[122,0.75],[125,0.9],[128,1],[131,0.8],[134,0.95],[137,0.75],[140,0.9],[143,1],[146,0.85],[149,0.95],[152,0.75],[155,1],[158,0.85],[161,0.7],[164,0.5],[167,0.45],[170,0.4],[173,0.38],[176,0.35],[179,0.28],[182,0.2],[185,0.15],[188,0.12],[191,0.15],[194,0.3],[197,0.95],[200,0.85],[203,1],[206,0.75],[209,0.6],[212,0.55],[215,0.45],[218,0.5],[221,0.4],[224,0.35],[227,0.45],[230,0.6],[233,0.9],[236,0.75],[239,0.6],[242,0.55],[245,0.5],[248,0.4],[251,0.45],[254,0.38],[257,0.35],[260,0.3],[263,0.25],[266,0.15],[269,0.12],[272,0.2],[275,0.4],[278,0.95],[281,0.8],[284,0.6],[287,0.45],[290,0.35],[293,0.3],[296,0.2],[299,0.28],[302,0.35],[305,0.3],[308,0.25],[311,0.55],[314,0.85],[317,0.75],[320,0.9],[323,0.75],[326,0.7],[329,0.8],[332,0.72],[335,0.78],[338,0.85],[341,1],[344,0.9],[347,0.8],[350,0.85],[353,0.82]];
const r53: P = [[0,0.98],[16.5,0.76],[28,0.48],[47,0.92],[69,0.92],[77.6,0.85],[88,0.77],[104,0.52],[115,0.66],[128,0.84],[141,0.92],[154,0.98],[164.7,0.92],[173.5,0.48],[198,0.92],[207.6,0.92],[212.4,0.59],[236,0.92],[248,0.71],[259,0.38],[278,0.92],[290,0.59],[298.6,0.71],[319,0.92],[326.5,0.71]];
const b53: P = [[37,0.24],[62,0.15],[184,0.56],[221.8,0.56],[267.6,0.15],[306.5,0.25]];

const g54: P = [[0,0.98],[2,0.5],[4,0.2],[6,0.1],[8,0.55],[10,0.3],[12,0.85],[14,0.45],[16,0.98],[18,0.6],[20,0.35],[22,0.7],[24,0.95],[26,0.5],[28,0.8],[30,0.55],[32,0.95],[34,0.4],[36,0.65],[38,0.3],[40,0.9],[42,0.5],[44,0.98],[46,0.6],[48,0.8],[50,0.45],[52,0.7],[54,0.98],[56,0.55],[58,0.35],[60,0.6],[62,0.3],[64,0.45],[66,0.25],[68,0.55],[70,0.85],[72,0.5],[74,0.98],[76,0.6],[78,0.35],[80,0.25],[82,0.45],[84,0.2],[86,0.5],[88,0.9],[90,0.6],[92,0.98],[94,0.7],[96,0.4],[98,0.55],[100,0.3],[102,0.2],[104,0.35],[106,0.15],[108,0.3],[110,0.2],[112,0.1],[114,0.15],[116,0.08],[118,0.12],[120,0.4],[122,0.75],[124,0.98],[126,0.55],[128,0.35],[130,0.45],[132,0.25],[134,0.6],[136,0.3],[138,0.2],[140,0.35],[142,0.2],[144,0.45],[146,0.3],[148,0.55],[150,0.35],[152,0.8],[154,0.45],[156,0.98],[158,0.6],[160,0.35],[162,0.5],[164,0.25],[166,0.4],[168,0.6],[170,0.3],[172,0.85],[174,0.5],[176,0.98],[178,0.55],[180,0.3],[182,0.2],[184,0.1],[186,0.15],[188,0.05],[190,0.1],[192,0.03],[195,0.05],[198,0.02],[201,0.05],[204,0.02],[207,0.3],[209,0.75],[211,0.98],[213,0.6],[215,0.85],[217,0.45],[219,0.7],[221,0.95],[223,0.55],[225,0.4],[227,0.7],[229,0.98],[231,0.6],[233,0.8],[235,0.5],[237,0.98],[239,0.65],[241,0.4],[243,0.55],[245,0.3],[247,0.2],[249,0.15],[251,0.3],[253,0.2],[255,0.1],[257,0.25],[259,0.4],[261,0.3],[263,0.55],[265,0.98],[267,0.6],[269,0.4],[271,0.3],[273,0.2],[275,0.35],[277,0.25],[279,0.4],[281,0.3],[283,0.6],[285,0.45],[287,0.3],[289,0.2],[291,0.3],[293,0.35],[295,0.25],[297,0.3],[299,0.2],[301,0.1],[303,0.35],[305,0.6],[307,0.98],[309,0.55],[311,0.3],[313,0.15],[315,0.08],[317,0.1],[319,0.05],[321,0.08]];
const r54: P = [[9.6,0.84],[20,0.84],[30,0.98],[38,0.45],[54,0.71],[90,0.84],[105,0.38],[126,0.84],[161,0.84],[171,0.27],[182,0.45],[218.5,0.84],[228,0.71],[239,0.98],[256,0.84],[273.7,0.27],[286.6,0.52],[308,0.84]];
const b54: P = [[0,0.98],[71,0.45],[118,0.11],[141,0.45],[207,0.04],[248,0.15],[298,0.24]];

// ---------- Row 6 ----------
const g61: P = [[0,1],[3,0.85],[6,0.9],[10,0.85],[15,0.92],[20,0.85],[25,0.9],[30,0.82],[35,0.88],[40,0.85],[45,0.9],[50,0.88],[55,0.92],[60,0.85],[65,0.9],[70,0.8],[75,0.78],[80,0.72],[85,0.78],[90,0.7],[95,0.75],[100,0.68],[104,0.62],[108,0.65],[112,0.7],[116,0.75],[120,0.85],[124,0.82],[128,0.85],[132,0.88],[136,0.82],[140,0.95],[144,0.88],[148,0.8],[152,0.72],[156,0.65],[160,0.62],[165,0.58],[170,0.55],[175,0.5],[180,0.45],[185,0.38],[190,0.32],[193,0.35],[195,0.98],[200,0.9],[204,0.85],[208,0.75],[212,0.7],[216,0.65],[220,0.55],[225,0.5],[230,0.45],[235,0.4],[240,0.35],[245,0.25],[250,0.22],[252,0.3],[254,0.92],[258,0.95],[262,0.9],[266,0.85],[270,0.8],[275,0.72],[280,0.68],[285,0.62],[290,0.65],[295,0.68],[300,0.62],[305,0.55],[310,0.6],[315,0.55],[320,0.48],[325,0.42]];
const r61: P = [[0,1],[4,0.89],[18,0.92],[29,0.92],[25,0.78],[43,0.92],[54,0.87],[65,0.92],[77,0.75],[86,0.75],[95,0.75],[80,0.64],[98.5,0.67],[124,0.96],[133,0.81],[144,0.84],[155,0.84],[163,0.64],[176,0.52],[195,0.96],[212,0.71],[220.6,0.61],[230,0.48],[238,0.4],[255,0.96],[267,0.92],[280,0.47],[294,0.54],[308,0.54]];
const b61: P = [[110,0.61],[185.6,0.36],[248,0.26]];

const g62: P = [[0,0.95],[3,0.6],[6,0.38],[8,0.3],[10,0.5],[14,0.78],[18,0.7],[22,0.55],[26,0.85],[30,0.6],[34,0.5],[38,0.45],[42,0.75],[46,0.95],[50,0.6],[54,0.45],[58,0.5],[62,0.65],[66,0.5],[70,0.42],[74,0.55],[78,0.9],[82,0.8],[86,0.65],[90,0.75],[94,0.95],[98,0.75],[102,0.5],[106,0.45],[110,0.55],[114,0.5],[118,0.4],[122,0.32],[126,0.3],[130,0.45],[134,0.55],[138,0.65],[142,0.8],[146,0.7],[150,0.6],[154,0.52],[158,0.5],[162,0.45],[166,0.55],[170,0.48],[174,0.4],[178,0.35],[182,0.3],[186,0.22],[190,0.15],[194,0.2],[198,0.3],[202,0.42],[206,0.55],[210,0.7],[214,0.65],[218,0.8],[222,0.95],[226,0.85],[230,0.95],[234,0.82],[238,0.9],[242,0.95],[246,0.8],[250,0.72],[254,0.65],[258,0.55],[262,0.45],[266,0.5],[270,0.85],[274,0.6],[278,0.45],[282,0.4],[286,0.55],[290,0.65],[294,0.5],[298,0.45],[302,0.4],[306,0.35],[310,0.3],[314,0.32],[318,0.25],[322,0.22],[326,0.3],[330,0.55],[334,0.75],[338,0.85],[342,0.95],[346,0.95],[350,0.8],[354,0.72],[358,0.7]];
const r62: P = [[0,0.98],[9,0.78],[20,0.98],[30,0.52],[38,0.83],[49,0.6],[61,0.55],[70.5,0.48],[83,0.78],[90,0.67],[99,0.91],[111,0.6],[126,0.38],[143,0.91],[157,0.6],[170,0.56],[172,0.4],[211.5,0.6],[220.7,0.6],[230,0.67],[239,0.98],[251,0.98],[259,0.6],[278,0.98],[292,0.6],[307,0.48],[330,0.44],[345,0.83]];
const b62: P = [];

const g63: P = [[0,1],[3,0.9],[6,0.82],[9,0.75],[12,0.7],[15,0.85],[18,0.75],[21,0.65],[24,0.72],[27,0.8],[30,0.65],[33,0.85],[36,0.75],[39,0.65],[42,0.55],[45,0.75],[48,0.85],[51,0.7],[54,0.95],[57,0.8],[60,0.7],[63,0.85],[66,0.75],[69,1],[72,0.8],[75,0.7],[78,0.75],[81,0.65],[84,0.85],[87,0.75],[90,0.65],[93,0.8],[96,0.7],[99,0.9],[102,1],[105,0.8],[108,0.7],[111,0.95],[114,0.75],[117,0.6],[120,0.9],[123,1],[126,0.75],[129,0.55],[132,0.65],[135,0.85],[138,0.7],[141,0.75],[144,0.95],[147,0.75],[150,0.6],[153,0.9],[156,0.7],[159,0.55],[162,0.48],[165,0.4],[168,0.35],[171,0.32],[174,0.28],[177,0.25],[180,0.22],[183,0.18],[186,0.2],[189,0.15],[192,0.12],[195,0.15],[198,0.12],[201,0.1],[203,0.08],[205,0.2],[207,0.8],[209,1],[212,0.85],[215,0.75],[218,0.7],[221,0.65],[224,0.6],[227,0.45],[230,0.35],[233,0.3],[236,0.35],[239,0.4],[242,0.5],[245,0.52]];
const r63: P = [[0,0.98],[10,0.77],[20,0.83],[29.6,0.71],[39,0.67],[50,0.83],[60,0.67],[72.7,0.83],[85,0.91],[99,0.71],[109,0.71],[119,0.83],[129,0.71],[144,0.83],[158,0.77],[208,0.91],[218,0.67]];
const b63: P = [[198,0.15]];

const g64: P = [[0,1],[2,0.6],[4,0.35],[6,0.2],[8,0.15],[10,0.12],[12,0.1],[14,0.08],[16,0.15],[18,0.12],[20,0.2],[22,0.25],[24,0.4],[26,0.6],[28,0.8],[30,0.5],[32,0.7],[34,0.4],[36,0.6],[38,0.5],[40,0.75],[42,0.55],[44,0.85],[46,0.6],[48,0.5],[50,0.75],[52,0.98],[54,0.55],[56,0.8],[58,0.45],[60,0.7],[62,0.98],[64,0.6],[66,0.45],[68,0.35],[70,0.55],[72,0.3],[74,0.45],[76,0.2],[78,0.55],[80,0.3],[82,0.6],[84,0.4],[86,0.25],[88,0.15],[90,0.5],[92,0.98],[94,0.55],[96,0.75],[98,0.4],[100,0.6],[102,0.25],[104,0.5],[106,0.3],[108,0.2],[110,0.35],[112,0.45],[114,0.7],[116,0.95],[118,0.6],[120,0.4],[122,0.75],[124,0.3],[126,0.55],[128,0.98],[130,0.5],[132,0.3],[134,0.6],[136,0.4],[138,0.75],[140,0.98],[142,0.5],[144,0.3],[146,0.7],[148,0.45],[150,0.98],[152,0.6],[154,0.25],[156,0.5],[158,0.95],[160,0.35],[162,0.55],[164,0.98],[166,0.4],[168,0.65],[170,0.3],[172,0.55],[174,0.98],[176,0.45],[178,0.3],[180,0.2],[182,0.25],[184,0.35],[186,0.2],[188,0.15],[190,0.1],[192,0.05],[194,0.03],[196,0.02],[198,0.05],[200,0.15],[202,0.5],[204,0.85],[206,0.98],[208,0.5],[210,0.3],[212,0.45],[214,0.25],[216,0.35],[218,0.2],[220,0.45],[222,0.3],[224,0.6],[226,0.35],[228,0.5],[230,0.3],[232,0.2],[234,0.45],[236,0.3],[238,0.15],[240,0.25],[242,0.2],[244,0.15],[246,0.3],[248,0.2],[250,0.12],[252,0.25],[254,0.45],[256,0.7],[258,0.98],[260,0.6],[262,0.85],[264,0.5],[266,0.98],[268,0.6],[270,0.75],[272,0.5],[274,0.35],[276,0.45],[278,0.38]];
const r64: P = [[0,0.98],[9,0.32],[31.6,0.84],[44,0.6],[55,0.98],[65,0.54],[73.5,0.44],[81.4,0.54],[91,0.98],[103,0.84],[111.6,0.44],[121,0.71],[129,0.38],[137.7,0.54],[149,0.84],[159.5,0.71],[169,0.6],[177,0.6],[187.4,0.28],[207,0.84],[214.4,0.32],[222,0.28],[234,0.54],[245.6,0.2],[255,0.15],[260,0.84]];
const b64: P = [[21.4,0.19],[196,0.02]];

// ---------- Row 7 ----------
const g71: P = [[0,1],[3,0.85],[6,0.72],[10,0.8],[14,0.95],[18,0.9],[22,0.85],[26,0.8],[30,0.88],[34,0.85],[38,0.9],[42,0.78],[46,0.82],[50,0.7],[54,0.85],[58,0.92],[62,0.88],[66,0.78],[70,0.7],[74,0.62],[78,0.58],[82,0.55],[86,0.58],[90,0.55],[94,0.6],[98,0.65],[100,0.85],[104,0.9],[108,0.8],[112,0.88],[116,0.92],[120,0.85],[124,0.9],[128,0.92],[132,0.88],[136,0.95],[140,0.9],[144,0.85],[148,0.72],[152,0.65],[156,0.6],[160,0.55],[165,0.5],[170,0.42],[174,0.38],[178,0.35],[180,0.5],[182,0.92],[186,0.95],[190,0.85],[195,0.92],[200,0.95],[205,0.88],[210,0.92],[215,0.85],[220,0.9],[225,0.92],[230,0.88],[235,0.82],[240,0.75],[244,0.62],[248,0.52],[252,0.48],[256,0.5],[260,0.55],[262,0.95],[266,0.9],[270,0.88],[275,0.85],[280,0.78],[285,0.72],[290,0.65],[295,0.6],[300,0.55],[303,0.52],[306,0.85],[310,0.92],[314,0.95],[318,0.85],[322,0.8],[325,0.78]];
const r71: P = [[0,1],[6,0.69],[19,0.99],[32,0.82],[42,0.88],[51,0.76],[62,0.96],[73,0.82],[84,0.48],[97,0.48],[104.5,0.85],[117,0.93],[130,0.9],[181,0.95],[190,0.8],[203,1],[215,0.9],[230,0.85],[263,0.95],[274,0.82],[308,0.93],[308,0.58]];
const b71: P = [[143,0.93],[238,1],[285,0.96]];

const g72: P = [[0,1],[3,0.92],[6,0.85],[10,0.8],[14,0.75],[18,0.6],[22,0.55],[25,0.35],[28,0.15],[31,0.1],[34,0.12],[37,0.08],[39,0.3],[41,0.95],[45,0.85],[50,0.9],[55,0.95],[60,0.85],[65,0.92],[70,0.8],[74,0.65],[78,0.5],[82,0.4],[86,0.45],[90,0.38],[94,0.35],[98,0.28],[102,0.38],[106,0.45],[110,0.5],[114,0.6],[118,0.7],[122,0.65],[126,0.55],[130,0.5],[134,0.58],[138,0.65],[142,0.85],[146,0.95],[148,0.6],[152,0.5],[156,0.35],[160,0.28],[164,0.35],[168,0.45],[172,0.55],[176,0.6],[180,0.52],[184,0.45],[188,0.3],[192,0.15],[196,0.1],[200,0.12],[204,0.1],[206,0.95],[210,0.75],[214,0.6],[218,0.55],[222,0.65],[226,0.5],[230,0.4],[234,0.35],[238,0.45],[242,0.55],[246,0.4],[250,0.75],[254,0.5],[258,0.4],[262,0.35],[266,0.3],[270,0.25],[274,0.2],[278,0.18],[282,0.15],[286,0.12],[290,0.1],[294,0.12],[298,0.15],[302,0.12],[306,0.15],[310,0.6],[313,0.95],[316,0.85],[320,0.6],[324,0.45],[328,0.35],[332,0.3],[336,0.28],[340,0.25],[344,0.2],[348,0.15],[352,0.12],[355,0.15]];
const r72: P = [[0,0.98],[9,0.91],[38,0.91],[51,0.91],[65,0.91],[78,0.71],[108,0.52],[126,0.67],[140,0.6],[150,0.44],[155,0.37],[207,0.91],[214,0.44],[228,0.6],[234.6,0.23],[245,0.33],[257,0.52],[268,0.37],[277,0.26],[315,0.91],[318,0.84],[327,0.44],[337,0.26],[351,0.26]];
const b72: P = [[17,0.77],[176,0.61],[292,0.08]];

const g73: P = [[0,0.98],[3,0.85],[6,0.6],[9,0.75],[12,0.7],[15,0.8],[18,0.95],[21,0.7],[24,0.55],[27,0.45],[30,0.4],[33,0.35],[36,0.45],[39,0.52],[42,0.65],[45,0.85],[48,1],[51,0.75],[54,0.85],[57,0.7],[60,0.95],[63,0.75],[66,0.65],[69,0.85],[72,0.7],[75,0.75],[78,0.6],[81,0.55],[84,0.5],[87,0.4],[90,0.3],[93,0.2],[96,0.15],[98,0.3],[100,0.9],[103,0.7],[106,0.55],[109,0.8],[112,0.75],[115,0.55],[118,0.65],[121,0.95],[124,0.75],[127,0.6],[130,0.85],[133,0.7],[136,0.8],[139,0.95],[142,0.85],[145,1],[148,0.8],[151,0.65],[154,0.6],[157,0.55],[160,0.7],[163,0.8],[166,0.62],[169,0.5],[172,0.75],[175,0.95],[178,0.7],[181,0.55],[184,0.85],[187,0.65],[190,0.5],[193,0.45],[196,0.35],[199,0.55],[202,0.8],[205,0.95],[208,0.8],[211,0.65],[214,0.5],[217,0.35],[220,0.25],[223,0.18],[225,0.3],[227,0.95],[230,0.7],[233,0.55],[236,0.6],[239,0.55],[242,0.45],[245,0.48]];
const r73: P = [[0,0.98],[39,0.91],[41,0.84],[50,0.71],[59,0.61],[69,0.71],[98.6,0.91],[98.6,0.77],[110,0.67],[118,0.56],[133.5,0.77],[142,0.77],[174.5,0.91],[180.7,0.61],[194,0.47],[224.6,0.91],[228,0.91],[233,0.77]];
const b73: P = [[7,0.57],[79,0.52],[154,0.71],[204,0.91]];

const g74: P = [[0,0.98],[2,0.5],[4,0.3],[6,0.15],[8,0.08],[10,0.05],[14,0.05],[18,0.05],[20,0.07],[22,0.3],[24,0.7],[26,0.98],[28,0.6],[30,0.85],[32,0.45],[34,0.75],[36,0.5],[38,0.95],[40,0.55],[42,0.75],[44,0.4],[46,0.6],[48,0.3],[50,0.5],[52,0.25],[54,0.4],[56,0.2],[58,0.35],[60,0.55],[62,0.8],[64,0.98],[66,0.5],[68,0.3],[70,0.2],[72,0.15],[74,0.25],[76,0.3],[78,0.45],[80,0.35],[82,0.6],[84,0.45],[86,0.7],[88,0.98],[90,0.55],[92,0.3],[94,0.4],[96,0.2],[98,0.15],[100,0.1],[102,0.05],[104,0.02],[106,0.05],[108,0.03],[110,0.15],[112,0.6],[114,0.98],[116,0.5],[118,0.3],[120,0.7],[122,0.45],[124,0.98],[126,0.6],[128,0.35],[130,0.6],[132,0.85],[134,0.5],[136,0.65],[138,0.35],[140,0.5],[142,0.3],[144,0.4],[146,0.25],[148,0.2],[150,0.3],[152,0.15],[154,0.2],[156,0.25],[158,0.12],[160,0.2],[162,0.1],[164,0.25],[166,0.15],[168,0.3],[170,0.1],[172,0.25],[174,0.2],[176,0.1],[178,0.2],[180,0.35],[182,0.25],[184,0.12],[186,0.2],[188,0.1],[190,0.25],[192,0.5],[194,0.85],[196,0.55],[198,0.98],[200,0.6],[202,0.85],[204,0.5],[206,0.7],[208,0.45],[210,0.98],[212,0.6],[214,0.85],[216,0.5],[218,0.98],[220,0.55],[222,0.75],[224,0.45],[226,0.98],[228,0.6],[230,0.4],[232,0.55],[234,0.3],[236,0.45],[238,0.2],[240,0.35],[242,0.25],[244,0.4],[246,0.2],[248,0.55],[250,0.3],[252,0.15],[254,0.25],[256,0.1],[258,0.2],[260,0.15],[262,0.35],[264,0.2],[266,0.5],[268,0.35],[270,0.65],[272,0.4],[274,0.3],[276,0.2],[278,0.15]];
const r74: P = [[22,0.98],[33,0.98],[21,0.84],[65.6,0.98],[65.6,0.84],[79.5,0.61],[110.7,0.98],[110,0.84],[118,0.37],[128,0.84],[135,0.52],[144,0.52],[152.6,0.19],[163,0.16],[173.5,0.19],[192,0.61],[222,0.84],[224.6,0.52],[236,0.71],[245.6,0.44],[254,0.84]];
const b74: P = [[0,0.98],[43,0.84],[92,0.61],[205,0.61]];

// ---------- Panel metadata ----------
const titles = [
  [3, 1, 4, 2],
  [3, 1, 4, 2],
  [4, 3, 2, 1],
  [4, 3, 2, 1],
  [4, 3, 2, 1],
  [1, 2, 3, 4],
  [1, 2, 3, 4],
];
const thresholds = [0.54, 0.39, 0.39, 0.2];
const xMaxes = [
  [247, 331, 286, 361],
  [247, 324, 286, 331],
  [283, 254, 358, 331],
  [283, 254, 353, 331],
  [283, 254, 353, 321],
  [327, 362, 246, 278],
  [327, 362, 246, 278],
];
const ticks50 = [0, 50, 100, 150, 200];
const ticks100a = [0, 100, 200];
const ticks100b = [0, 100, 200, 300];
const tickSets = [
  [ticks50, ticks100b, ticks100a, ticks100b],
  [ticks50, ticks100b, ticks100a, ticks100b],
  [ticks100a, ticks50, ticks100b, ticks100b],
  [ticks100a, ticks50, ticks100b, ticks100b],
  [ticks100a, ticks50, ticks100b, ticks100b],
  [ticks100b, ticks100b, ticks50, ticks100a],
  [ticks100b, ticks100b, ticks50, ticks100a],
];
const yTicks = [0, 0.5, 1];
const colLabels = ['T1', 'T2', 'T3', 'T4'];
const xLabel = 'Seconds';

const greens = [
  [g11, g12, g13, g14], [g21, g22, g23, g24], [g31, g32, g33, g34], [g41, g42, g43, g44],
  [g51, g52, g53, g54], [g61, g62, g63, g64], [g71, g72, g73, g74],
];
const reds = [
  [r11, r12, r13, r14], [r21, r22, r23, r24], [r31, r32, r33, r34], [r41, r42, r43, r44],
  [r51, r52, r53, r54], [r61, r62, r63, r64], [r71, r72, r73, r74],
];
const blues = [
  [b11, b12, b13, b14], [b21, b22, b23, b24], [b31, b32, b33, b34], [b41, b42, b43, b44],
  [b51, b52, b53, b54], [b61, b62, b63, b64], [b71, b72, b73, b74],
];

// ---------- Layout ----------
const FONT = '"Liberation Sans", Arial, Helvetica, sans-serif';
const COL_X = [39, 301, 565, 827];
const LABEL_X = [133.5, 397, 660, 925];
const ROW_TOP0 = 30.7;
const ROW_PITCH = 155.08;
const PW = 200;
const PH = 77;
const ML = 50;
const MT = 30;
const MB = 25;
const MR = 10;

const toXY = (arr: P) => arr.map(([x, y]) => ({ x, y }));

const RedSquare = (props: any) => {
  const { cx, cy } = props;
  if (cx == null || cy == null) return null;
  return <rect x={cx - 6} y={cy - 6} width={12} height={12} fill="#ff0000" />;
};
const BlueSquare = (props: any) => {
  const { cx, cy } = props;
  if (cx == null || cy == null) return null;
  return <rect x={cx - 6} y={cy - 6} width={12} height={12} fill="#0000ff" />;
};

function Panel({ row, col }: { row: number; col: number }) {
  const top = ROW_TOP0 + ROW_PITCH * row;
  const left = COL_X[col];
  const W = ML + PW + MR;
  const H = MT + PH + MB;
  const tickStyle = { fill: '#000', fontSize: 17, fontFamily: FONT };
  return (
    <div style={{ position: 'absolute', left: left - ML, top: top - MT, width: W, height: H }}>
      <div
        style={{
          position: 'absolute', left: ML, width: PW, top: MT - 27, textAlign: 'center',
          fontSize: 19.5, lineHeight: '19px', fontFamily: FONT, color: '#000',
        }}
      >
        {titles[row][col]}
      </div>
      <ComposedChart width={W} height={H} margin={{ top: MT, right: MR, bottom: 0, left: 0 }}>
        <XAxis
          type="number" dataKey="x" domain={[0, xMaxes[row][col]]} ticks={tickSets[row][col]}
          interval={0} height={MB} tickLine={false} tickSize={3} tickMargin={2}
          axisLine={{ stroke: '#000', strokeWidth: 1.2 }} tick={tickStyle}
        />
        <YAxis
          type="number" dataKey="y" domain={[0, 1]} ticks={yTicks} interval={0} width={ML}
          tickLine={false} tickSize={4} tickMargin={2}
          axisLine={{ stroke: '#000', strokeWidth: 1.2 }} tick={tickStyle}
        />
        <ReferenceLine y={thresholds[col]} stroke="#ff0000" strokeOpacity={0.75} strokeWidth={1} strokeDasharray="1.5 5" />
        <Line
          data={toXY(greens[row][col])} dataKey="y" type="linear" stroke="#00ff00" strokeWidth={3}
          dot={false} activeDot={false} isAnimationActive={false}
        />
        <Scatter data={toXY(blues[row][col])} dataKey="y" shape={BlueSquare} isAnimationActive={false} />
        <Scatter data={toXY(reds[row][col])} dataKey="y" shape={RedSquare} isAnimationActive={false} />
      </ComposedChart>
    </div>
  );
}

export default function App() {
  const rows = [0, 1, 2, 3, 4, 5, 6];
  const cols = [0, 1, 2, 3];
  return (
    <div style={{ position: 'absolute', left: 0, top: 0, width: 1031, height: 1107, background: '#fff', overflow: 'hidden' }}>
      {rows.map((r) => cols.map((c) => <Panel key={`${r}-${c}`} row={r} col={c} />))}
      <div
        style={{
          position: 'absolute', left: 85, width: 100, top: 290.5, textAlign: 'center',
          fontSize: 16.5, lineHeight: '16px', fontFamily: FONT, color: '#000',
        }}
      >
        {xLabel}
      </div>
      {colLabels.map((t, i) => (
        <div
          key={t}
          style={{
            position: 'absolute', left: LABEL_X[i] - 50, width: 100, top: 1072.8,
            textAlign: 'center', fontSize: 32, lineHeight: '32px', fontFamily: FONT, color: '#000',
            transform: 'scaleX(0.86)',
          }}
        >
          {t}
        </div>
      ))}
    </div>
  );
}
